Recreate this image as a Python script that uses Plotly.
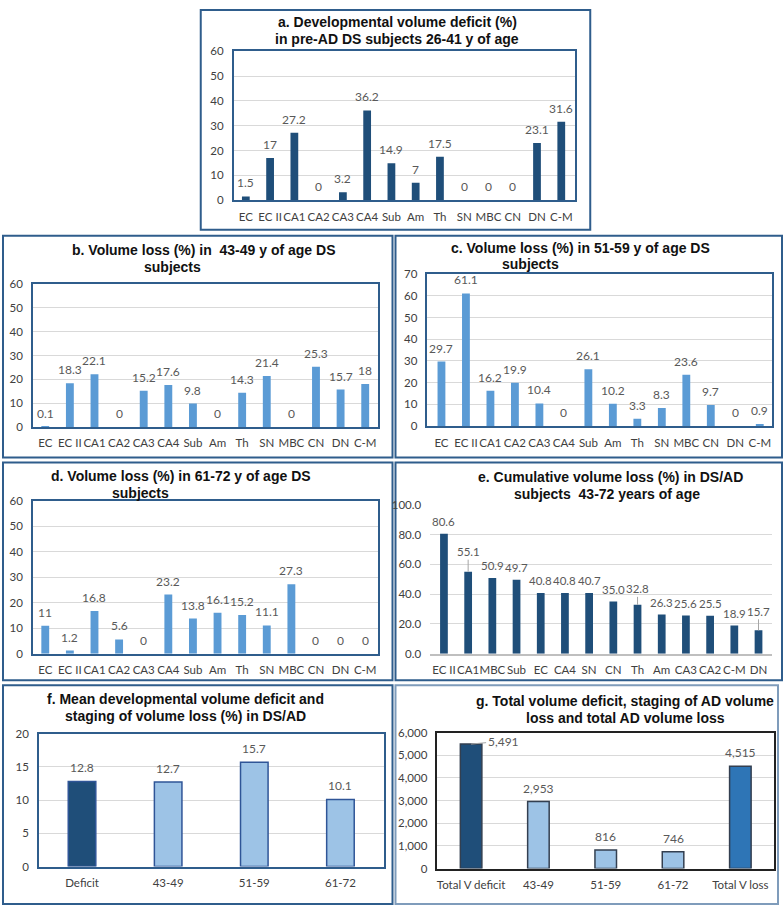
import plotly.graph_objects as go

W, H = 784, 914

regions = ["EC", "EC II", "CA1", "CA2", "CA3", "CA4", "Sub", "Am", "Th", "SN", "MBC", "CN", "DN", "C-M"]
a_vals = [1.5, 17, 27.2, 0, 3.2, 36.2, 14.9, 7, 17.5, 0, 0, 0, 23.1, 31.6]
b_vals = [0.1, 18.3, 22.1, 0, 15.2, 17.6, 9.8, 0, 14.3, 21.4, 0, 25.3, 15.7, 18]
c_vals = [29.7, 61.1, 16.2, 19.9, 10.4, 0, 26.1, 10.2, 3.3, 8.3, 23.6, 9.7, 0, 0.9]
d_vals = [11, 1.2, 16.8, 5.6, 0, 23.2, 13.8, 16.1, 15.2, 11.1, 27.3, 0, 0, 0]
e_cats = ["EC II", "CA1", "MBC", "Sub", "EC", "CA4", "SN", "CN", "Th", "Am", "CA3", "CA2", "C-M", "DN"]
e_vals = [80.6, 55.1, 50.9, 49.7, 40.8, 40.8, 40.7, 35.0, 32.8, 26.3, 25.6, 25.5, 18.9, 15.7]
f_cats = ["Deficit", "43-49", "51-59", "61-72"]
f_vals = [12.8, 12.7, 15.7, 10.1]
g_cats = ["Total V deficit", "43-49", "51-59", "61-72", "Total V loss"]
g_vals = [5491, 2953, 816, 746, 4515]

# data labels that Excel moved away from the bar top (pixel offsets of the label)
e_label_offsets = {"CA1": -20, "Th": -16, "DN": -19}
g_label_offsets = {"Total V deficit": (32, -3)}

NAVY = "#1F4E79"
MID = "#5B9BD5"
LIGHT = "#9DC3E6"
BLUE2 = "#2E75B6"
BORDER = "#2F5D8C"
GRID = "#D9D9D9"
TXT = "#595959"
TICKF = dict(family="Lato, Open Sans, sans-serif", size=11.5, color="#404040")
LBLF = dict(family="Lato, Open Sans, sans-serif", size=12, color=TXT)
TITLEF = dict(family="Liberation Sans, Arial, sans-serif", size=14, color="#111111")

# panel layout in pixels: (plot x0, x1, y_top, y_bottom)
panels = {
    "a": (233, 575, 45, 196),
    "b": (32, 377, 281, 426),
    "c": (427, 772, 271, 425),
    "d": (32, 377, 501, 656),
    "e": (430, 772, 505, 656),
    "f": (38, 383, 737, 872),
    "g": (437, 774, 736, 874),
}
boxes = {
    "a": (200, 590, 3, 226),
    "b": (2, 392, 232, 457),
    "c": (395, 782, 232, 457),
    "d": (2, 392, 462, 683),
    "e": (395, 782, 462, 683),
    "f": (2, 392, 688, 910),
    "g": (395, 778, 688, 910),
}

def px(x):
    return x / W

def py(y):
    return 1 - y / H

fig = go.Figure()
layout = dict(width=W, height=H, margin=dict(l=0, r=0, t=0, b=0),
              paper_bgcolor="white", plot_bgcolor="white", showlegend=False,
              annotations=[], shapes=[])

def add_panel(idx, key, cats, vals, colors, yrange, dtick, tickformat=None,
              textfmt=None, bargap=0.66, outline=None, border=BORDER, mirror=True,
              lblfont=LBLF, offsets=None):
    xa = "x" if idx == 1 else f"x{idx}"
    ya = "y" if idx == 1 else f"y{idx}"
    x0, x1, yt, yb = panels[key]
    fig.add_trace(go.Bar(
        x=cats, y=vals, xaxis=xa, yaxis=ya,
        marker=dict(color=colors,
                    line=dict(color=outline or "rgba(0,0,0,0)", width=1.5 if outline else 0)),
        cliponaxis=False, hoverinfo="skip",
    ))
    offsets = offsets or {}
    for c, v in zip(cats, vals):
        txt = textfmt(v) if textfmt else f"{v:g}"
        if c in offsets:
            off = offsets[c]
            if isinstance(off, tuple):
                axo, ayo = off
            else:
                axo, ayo = 0, off
            layout["annotations"].append(dict(
                x=c, y=v, xref=xa, yref=ya, text=txt, font=lblfont,
                showarrow=True, arrowhead=0, arrowwidth=1, arrowcolor="#A6A6A6",
                ax=axo, ay=ayo, standoff=0))
        else:
            layout["annotations"].append(dict(
                x=c, y=v, xref=xa, yref=ya, text=txt, font=lblfont,
                showarrow=False, yanchor="bottom", yshift=4))
    xkey = "xaxis" if idx == 1 else f"xaxis{idx}"
    ykey = "yaxis" if idx == 1 else f"yaxis{idx}"
    layout[xkey] = dict(domain=[px(x0), px(x1)], anchor=ya, type="category",
                        tickfont=TICKF, showgrid=False, showline=True, tickangle=0,
                        linecolor=border, linewidth=1.5, mirror=mirror,
                        ticks="outside", ticklen=5, tickcolor="rgba(0,0,0,0)",
                        fixedrange=True)
    layout[ykey] = dict(domain=[py(yb), py(yt)], anchor=xa, range=yrange, dtick=dtick,
                        tickfont=TICKF, showgrid=True, gridcolor=GRID, gridwidth=1,
                        showline=mirror, linecolor=border, linewidth=1.5, mirror=mirror,
                        zeroline=False, ticks="outside", ticklen=6,
                        tickcolor="rgba(0,0,0,0)", fixedrange=True)
    if tickformat:
        layout[ykey]["tickformat"] = tickformat
    layout["bargap"] = bargap

add_panel(1, "a", regions, a_vals, NAVY, [0, 60], 10)
add_panel(2, "b", regions, b_vals, MID, [0, 60], 10)
add_panel(3, "c", regions, c_vals, MID, [0, 70], 10)
add_panel(4, "d", regions, d_vals, MID, [0, 60], 10)
add_panel(5, "e", e_cats, e_vals, NAVY, [0, 100], 20, tickformat=".1f",
          textfmt=lambda v: f"{v:.1f}", mirror=False, border="#BFBFBF",
          lblfont=dict(LBLF, size=11.5), offsets=e_label_offsets)
add_panel(6, "f", f_cats, f_vals, [NAVY, LIGHT, LIGHT, LIGHT], [0, 20], 5,
          outline="#2F5597", bargap=0.68)
add_panel(7, "g", g_cats, g_vals, [NAVY, LIGHT, LIGHT, LIGHT, BLUE2], [0, 6000], 1000,
          tickformat=",", textfmt=lambda v: f"{v:,}", outline="#333F50", bargap=0.68,
          border="#222222", offsets=g_label_offsets)

# panel boxes
for k, (x0, x1, y0, y1) in boxes.items():
    layout["shapes"].append(dict(type="rect", xref="paper", yref="paper",
                                 x0=px(x0), x1=px(x1), y0=py(y1), y1=py(y0),
                                 line=dict(color="#7F9CBB" if k == "g" else BORDER, width=2),
                                 layer="below"))

titles = [
    ("a. Developmental volume deficit (%)", 397, 15),
    ("in pre-AD DS subjects 26-41 y of age", 397, 32),
    ("b. Volume loss (%) in  43-49 y of age DS", 203, 247),
    ("subjects", 172, 264),
    ("c. Volume loss (%) in 51-59 y of age DS", 580, 244),
    ("subjects", 530, 261),
    ("d. Volume loss (%) in 61-72 y of age DS", 180, 476),
    ("subjects", 140, 493),
    ("e. Cumulative volume loss (%) in DS/AD", 610, 477),
    ("subjects  43-72 years of age", 607, 494),
    ("f. Mean developmental volume deficit and", 185, 702),
    ("staging of volume loss (%) in DS/AD", 185, 719),
    ("g. Total volume deficit, staging of AD volume", 625, 704),
    ("loss and total AD volume loss", 625, 721),
]
for t, x, y in titles:
    layout["annotations"].append(dict(text=f"<b>{t}</b>", x=px(x), y=py(y),
                                      xref="paper", yref="paper", showarrow=False,
                                      xanchor="center", yanchor="middle", font=TITLEF))

fig.update_layout(**layout)
fig.write_html(
    "out.html",
    config={"displayModeBar": False},
    post_script=("document.body.style.margin='0';"
                 "var d=document.getElementById('{plot_id}');"
                 "d.style.position='fixed';d.style.left='0px';d.style.top='0px';"),
)
